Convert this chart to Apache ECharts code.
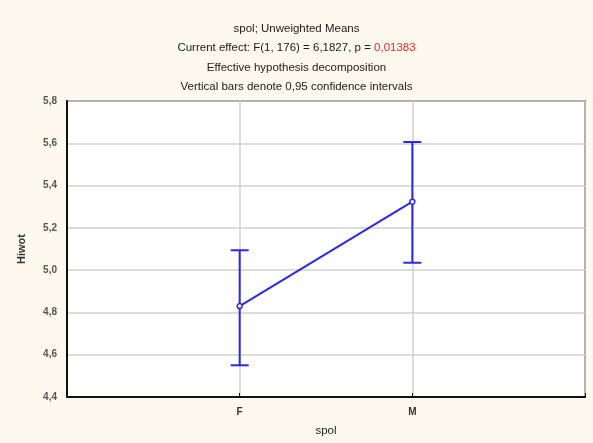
<!DOCTYPE html>
<html><head><meta charset="utf-8">
<script src="https://cdn.jsdelivr.net/npm/echarts@6/dist/echarts.min.js"></script>
<style>html,body{margin:0;padding:0;background:#fdf9ef;}#c{width:593px;height:443px;}</style>
</head><body><div id="c"></div>
<script>
const categories = ['F', 'M'];
const means = [4.83, 5.324];
const lower = [4.55, 5.035];
const upper = [5.094, 5.606];
const yTicks = ['4,4','4,6','4,8','5,0','5,2','5,4','5,6','5,8'];

const chart = echarts.init(document.getElementById('c'));
const blue = '#2a2ae6';
const lineData = means.map((v, i) => [i + 1, v]);
const errData = means.map((v, i) => [i + 1, lower[i], upper[i]]);

chart.setOption({
  backgroundColor: '#fdf9ef',
  animation: false,
  title: {
    left: 'center', top: 14,
    text: '{a|spol; Unweighted Means}\n{a|Current effect: F(1, 176) = 6,1827, p = }{r|0,01383}\n{a|Effective hypothesis decomposition}\n{a|Vertical bars denote 0,95 confidence intervals}',
    textStyle: {
      rich: {
        a: { fontFamily: 'Arial, Liberation Sans', fontSize: 11.5, fontWeight: 'normal', color: '#1a1a1a', lineHeight: 19.5 },
        r: { fontFamily: 'Arial, Liberation Sans', fontSize: 11.5, fontWeight: 'normal', color: '#e8262a', lineHeight: 19.5 }
      }
    }
  },
  grid: { left: 67, right: 8, top: 101, bottom: 46, show: true, backgroundColor: '#ffffff', borderColor: '#222', borderWidth: 1.5 },
  xAxis: {
    type: 'value', min: 0, max: 3, interval: 1,
    name: 'spol', nameLocation: 'middle', nameGap: 28,
    nameTextStyle: { fontFamily: 'Arial, Liberation Sans', fontSize: 11.5, color: '#222' },
    axisLine: { show: true, lineStyle: { color: '#111', width: 2 } },
    axisTick: { show: true, inside: true, length: 4, lineStyle: { color: '#111' } },
    axisLabel: {
      fontFamily: 'Arial, Liberation Sans', fontSize: 10, fontWeight: 'bold', color: '#333', margin: 10,
      formatter: v => (v >= 1 && v <= categories.length) ? categories[v - 1] : ''
    },
    splitLine: { show: true, lineStyle: { color: '#d0d0d0', width: 1.5 } }
  },
  yAxis: {
    type: 'value', min: 4.4, max: 5.8, interval: 0.2,
    name: 'Hiwot', nameLocation: 'middle', nameGap: 40, nameRotate: 90,
    nameTextStyle: { fontFamily: 'Arial, Liberation Sans', fontSize: 11, fontWeight: 'bold', color: '#333' },
    axisLine: { show: true, lineStyle: { color: '#111', width: 2 } },
    axisTick: { show: false },
    axisLabel: {
      fontFamily: 'Arial, Liberation Sans', fontSize: 10, fontWeight: 'bold', color: '#555', margin: 10,
      formatter: v => yTicks[Math.round((v - 4.4) / 0.2)]
    },
    splitLine: { show: true, lineStyle: { color: '#d0d0d0', width: 1.5 } }
  },
  series: [
    {
      type: 'custom',
      renderItem: function (params, api) {
        const x = api.value(0);
        const lo = api.coord([x, api.value(1)]);
        const hi = api.coord([x, api.value(2)]);
        const hw = 9;
        const st = { stroke: blue, lineWidth: 2 };
        return {
          type: 'group',
          children: [
            { type: 'line', shape: { x1: lo[0], y1: lo[1], x2: hi[0], y2: hi[1] }, style: st },
            { type: 'line', shape: { x1: lo[0] - hw, y1: lo[1], x2: lo[0] + hw, y2: lo[1] }, style: st },
            { type: 'line', shape: { x1: hi[0] - hw, y1: hi[1], x2: hi[0] + hw, y2: hi[1] }, style: st }
          ]
        };
      },
      encode: { x: 0, y: [1, 2] },
      data: errData,
      z: 2
    },
    {
      type: 'line',
      data: lineData,
      symbol: 'circle', symbolSize: 5,
      lineStyle: { color: blue, width: 2 },
      itemStyle: { color: '#ffffff', borderColor: blue, borderWidth: 1.5 },
      z: 3
    }
  ]
});
</script>
</body></html>
